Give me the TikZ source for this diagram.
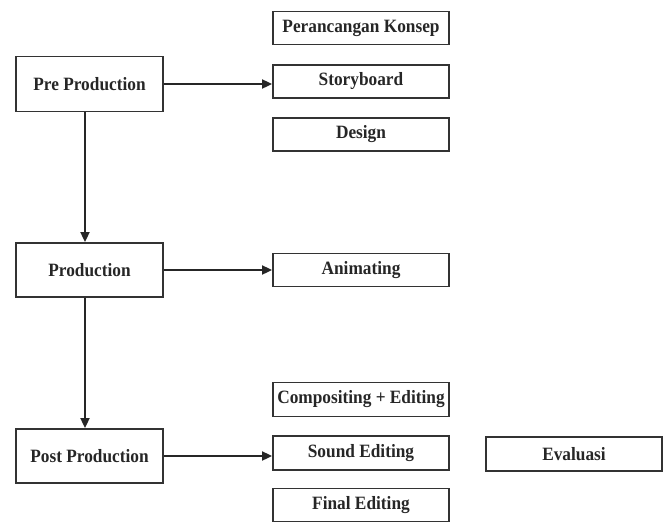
\documentclass[tikz,border=0pt]{standalone}
\usepackage{fontspec}
\setmainfont{Liberation Serif}[FakeStretch=0.92]
\usetikzlibrary{arrows.meta}
\begin{document}
\begin{tikzpicture}[x=1pt,y=-1pt,
  box/.style={draw=black!80,line width=1.8pt,inner sep=0pt,font=\bfseries\fontsize{18.8}{20}\selectfont,text=black!85},
  arr/.style={draw=black!85,line width=1.8pt,-{Triangle[length=10pt,width=9pt]}}]
\useasboundingbox (0,0) rectangle (670,523);
\node[box,minimum width=147pt,minimum height=55pt] (pre) at (89.5,84) {Pre Production};
\node[box,minimum width=147pt,minimum height=54pt] (prod) at (89.5,270) {Production};
\node[box,minimum width=147pt,minimum height=54pt] (post) at (89.5,456) {Post Production};
\node[box,minimum width=176pt,minimum height=33pt] (konsep) at (361,28) {Perancangan Konsep};
\node[box,minimum width=176pt,minimum height=33pt] (story) at (361,81.5) {Storyboard};
\node[box,minimum width=176pt,minimum height=33pt] (design) at (361,134.5) {Design};
\node[box,minimum width=176pt,minimum height=33pt] (anim) at (361,270) {Animating};
\node[box,minimum width=176pt,minimum height=34pt] (comp) at (361,399.5) {Compositing + Editing};
\node[box,minimum width=176pt,minimum height=34pt] (sound) at (361,453) {Sound Editing};
\node[box,minimum width=176pt,minimum height=33pt] (final) at (361,505) {Final Editing};
\node[box,minimum width=176pt,minimum height=34pt] (eval) at (574,454) {Evaluasi};
\draw[arr] (pre.east) -- (pre.east -| story.west);
\draw[arr] (prod.east) -- (prod.east -| anim.west);
\draw[arr] (post.east) -- (post.east -| sound.west);
\draw[arr] ([xshift=-4.5pt]pre.south) -- ([xshift=-4.5pt]prod.north);
\draw[arr] ([xshift=-4.5pt]prod.south) -- ([xshift=-4.5pt]post.north);
\end{tikzpicture}
\end{document}
